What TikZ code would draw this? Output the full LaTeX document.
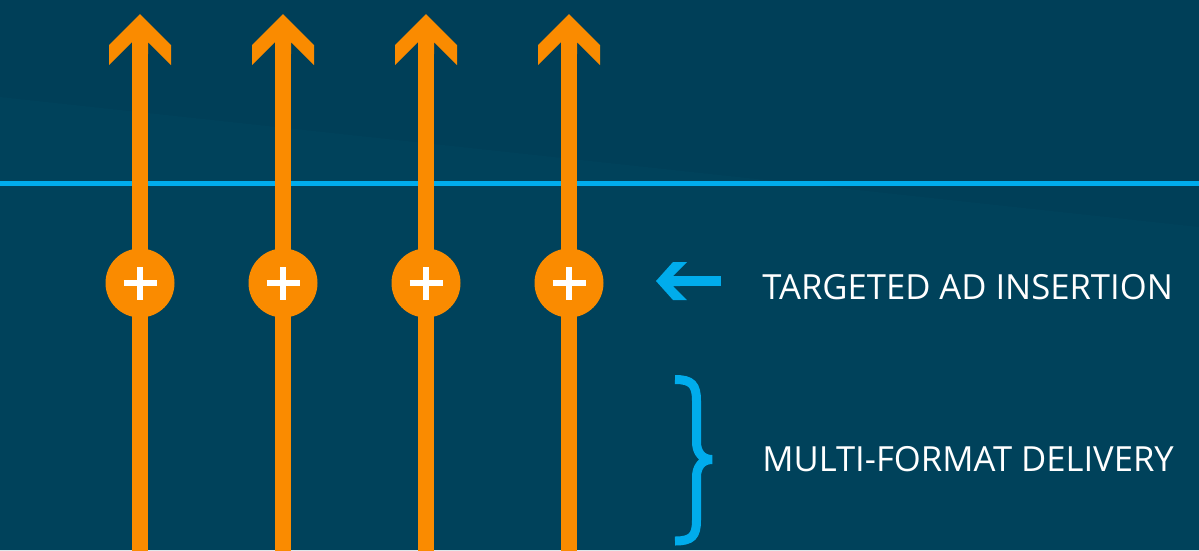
\documentclass[tikz,border=0pt]{standalone}
\usepackage{fontspec}
\setmainfont{Open Sans}
\usepackage{tikz}

\definecolor{bgdark}{RGB}{0,63,88}
\definecolor{bglight}{RGB}{0,66,91}
\definecolor{streamorange}{RGB}{250,139,0}
\definecolor{signalblue}{RGB}{0,172,236}

\tikzset{
  stream/.style={draw=streamorange, line width=3.2mm},
  insert/.style={circle, fill=streamorange, minimum size=13.8mm, inner sep=0pt,
    path picture={
      \draw[white, line width=1.1mm]
        ([xshift=-3.3mm]path picture bounding box.center) -- ([xshift=3.3mm]path picture bounding box.center)
        ([yshift=-3.3mm]path picture bounding box.center) -- ([yshift=3.3mm]path picture bounding box.center);
    }},
  caption/.style={text=white, anchor=base west, inner sep=0pt, font=\fontsize{19.7}{23}\selectfont}
}

\begin{document}
\begin{tikzpicture}[x=0.2mm, y=-0.2mm]

% parameters
\def\xa{140}
\def\xb{283}
\def\xc{426}
\def\xd{569}
\def\ymid{283}

% background
\fill[bgdark] (0,0) rectangle (1199,550);
\fill[bglight] (0,97) -- (1199,227) -- (1199,550) -- (0,550) -- cycle;
\useasboundingbox (0,0) rectangle (1199,550);

% horizontal line
\draw[signalblue, line width=1mm] (0,183) -- (1199,183);

% stream ends
\coordinate (bot1) at (\xa,552);
\coordinate (bot2) at (\xb,552);
\coordinate (bot3) at (\xc,552);
\coordinate (bot4) at (\xd,552);
\coordinate (neck1) at (\xa,50);
\coordinate (neck2) at (\xb,50);
\coordinate (neck3) at (\xc,50);
\coordinate (neck4) at (\xd,50);
\coordinate (top1) at (\xa,14);
\coordinate (top2) at (\xb,14);
\coordinate (top3) at (\xc,14);
\coordinate (top4) at (\xd,14);

% shafts
\draw[stream] (bot1) -- (neck1);
\draw[stream] (bot2) -- (neck2);
\draw[stream] (bot3) -- (neck3);
\draw[stream] (bot4) -- (neck4);

% arrow heads
\fill[streamorange, shift={(top1)}] (0,0) -- (31,31) -- (31,51) -- (8,28) -- (8,40) -- (-8,40) -- (-8,28) -- (-31,51) -- (-31,31) -- cycle;
\fill[streamorange, shift={(top2)}] (0,0) -- (31,31) -- (31,51) -- (8,28) -- (8,40) -- (-8,40) -- (-8,28) -- (-31,51) -- (-31,31) -- cycle;
\fill[streamorange, shift={(top3)}] (0,0) -- (31,31) -- (31,51) -- (8,28) -- (8,40) -- (-8,40) -- (-8,28) -- (-31,51) -- (-31,31) -- cycle;
\fill[streamorange, shift={(top4)}] (0,0) -- (31,31) -- (31,51) -- (8,28) -- (8,40) -- (-8,40) -- (-8,28) -- (-31,51) -- (-31,31) -- cycle;

% insertion points
\node[insert] (plus1) at (\xa,\ymid) {};
\node[insert] (plus2) at (\xb,\ymid) {};
\node[insert] (plus3) at (\xc,\ymid) {};
\node[insert] (plus4) at (\xd,\ymid) {};

% ad insertion pointer
\coordinate (adtip) at (656,281);
\coordinate (adneck) at (676,281);
\coordinate (adtail) at (721,281);
\draw[signalblue, line width=2mm] (adtail) -- (adneck);
\fill[signalblue, shift={(adtip)}] (0,0) -- (17,-19) -- (31,-19) -- (17,-5) -- (24,-5) -- (24,5) -- (17,5) -- (31,19) -- (17,19) -- cycle;

% delivery brace
\draw[signalblue, line width=1.8mm, line join=miter]
  (675,379.5) .. controls (692,379.5) and (696.5,385) .. (696.5,401)
  -- (696.5,442) .. controls (696.5,452) and (702,459.5) .. (712,459.5)
  .. controls (702,459.5) and (696.5,467) .. (696.5,477)
  -- (696.5,520) .. controls (696.5,536) and (692,541) .. (675,541);

% captions
\node[caption] (adtext) at (762,299) {TARGETED AD INSERTION};
\node[caption] (deliverytext) at (762,471) {MULTI-FORMAT DELIVERY};

\end{tikzpicture}
\end{document}
